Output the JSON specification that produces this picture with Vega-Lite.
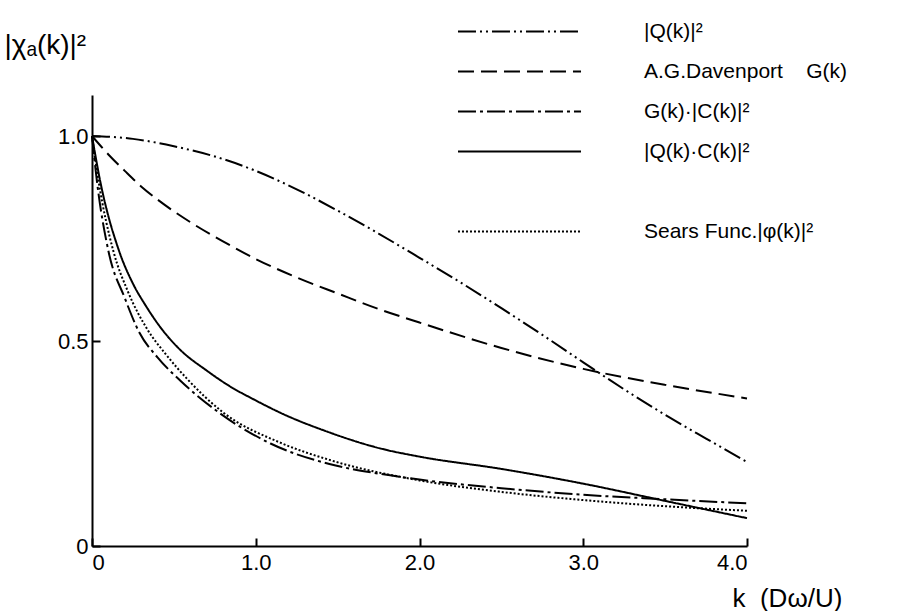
{
  "$schema": "https://vega.github.io/schema/vega-lite/v6.json",
  "width": 655,
  "height": 451,
  "autosize": "none",
  "padding": {"left": 92, "top": 95, "right": 159, "bottom": 65},
  "background": "white",
  "config": {
    "view": {"stroke": null},
    "font": "Liberation Sans",
    "axis": {"grid": false, "domainColor": "black", "domainWidth": 2, "tickColor": "black", "tickWidth": 2, "labelColor": "black", "titleColor": "black", "labelFont": "Liberation Sans", "titleFont": "Liberation Sans", "labelFontSize": 22, "titleFontWeight": "normal"},
    "legend": {"labelFont": "Liberation Sans", "labelFontSize": 21, "labelColor": "black", "labelLimit": 400}
  },
  "data": {
    "values": [
      {"series": "Q", "k": 0, "v": 1.0},
      {"series": "Q", "k": 0.25, "v": 0.993},
      {"series": "Q", "k": 0.5, "v": 0.975},
      {"series": "Q", "k": 0.75, "v": 0.95},
      {"series": "Q", "k": 1.0, "v": 0.915},
      {"series": "Q", "k": 1.25, "v": 0.87},
      {"series": "Q", "k": 1.5, "v": 0.818},
      {"series": "Q", "k": 1.75, "v": 0.762},
      {"series": "Q", "k": 2.0, "v": 0.703},
      {"series": "Q", "k": 2.25, "v": 0.643},
      {"series": "Q", "k": 2.5, "v": 0.58},
      {"series": "Q", "k": 2.75, "v": 0.515},
      {"series": "Q", "k": 3.0, "v": 0.448},
      {"series": "Q", "k": 3.25, "v": 0.382},
      {"series": "Q", "k": 3.5, "v": 0.32},
      {"series": "Q", "k": 3.75, "v": 0.262},
      {"series": "Q", "k": 4.0, "v": 0.205},
      {"series": "G", "k": 0, "v": 1.0},
      {"series": "G", "k": 0.1, "v": 0.955},
      {"series": "G", "k": 0.2, "v": 0.915},
      {"series": "G", "k": 0.3, "v": 0.877},
      {"series": "G", "k": 0.4, "v": 0.845},
      {"series": "G", "k": 0.6, "v": 0.79},
      {"series": "G", "k": 0.8, "v": 0.743},
      {"series": "G", "k": 1.0, "v": 0.70},
      {"series": "G", "k": 1.25, "v": 0.655},
      {"series": "G", "k": 1.5, "v": 0.616},
      {"series": "G", "k": 1.75, "v": 0.578},
      {"series": "G", "k": 2.0, "v": 0.545},
      {"series": "G", "k": 2.5, "v": 0.483},
      {"series": "G", "k": 3.0, "v": 0.432},
      {"series": "G", "k": 3.5, "v": 0.393},
      {"series": "G", "k": 4.0, "v": 0.36},
      {"series": "GC", "k": 0, "v": 1.0},
      {"series": "GC", "k": 0.03, "v": 0.89},
      {"series": "GC", "k": 0.1, "v": 0.72},
      {"series": "GC", "k": 0.2, "v": 0.605},
      {"series": "GC", "k": 0.29, "v": 0.52},
      {"series": "GC", "k": 0.4, "v": 0.46},
      {"series": "GC", "k": 0.54, "v": 0.403},
      {"series": "GC", "k": 0.78, "v": 0.324},
      {"series": "GC", "k": 1.09, "v": 0.25},
      {"series": "GC", "k": 1.45, "v": 0.2},
      {"series": "GC", "k": 1.76, "v": 0.176},
      {"series": "GC", "k": 2.0, "v": 0.162},
      {"series": "GC", "k": 2.5, "v": 0.141},
      {"series": "GC", "k": 3.0, "v": 0.125},
      {"series": "GC", "k": 3.5, "v": 0.114},
      {"series": "GC", "k": 4.0, "v": 0.104},
      {"series": "QC", "k": 0, "v": 1.0},
      {"series": "QC", "k": 0.05, "v": 0.89},
      {"series": "QC", "k": 0.165, "v": 0.72},
      {"series": "QC", "k": 0.25, "v": 0.64},
      {"series": "QC", "k": 0.33, "v": 0.585},
      {"series": "QC", "k": 0.43, "v": 0.527},
      {"series": "QC", "k": 0.54, "v": 0.478},
      {"series": "QC", "k": 0.7, "v": 0.428},
      {"series": "QC", "k": 0.84, "v": 0.39},
      {"series": "QC", "k": 1.0, "v": 0.355},
      {"series": "QC", "k": 1.15, "v": 0.325},
      {"series": "QC", "k": 1.45, "v": 0.277},
      {"series": "QC", "k": 1.76, "v": 0.238},
      {"series": "QC", "k": 2.0, "v": 0.218},
      {"series": "QC", "k": 2.5, "v": 0.188},
      {"series": "QC", "k": 3.0, "v": 0.152},
      {"series": "QC", "k": 3.5, "v": 0.11},
      {"series": "QC", "k": 4.0, "v": 0.068},
      {"series": "S", "k": 0, "v": 1.0},
      {"series": "S", "k": 0.04, "v": 0.89},
      {"series": "S", "k": 0.13, "v": 0.72},
      {"series": "S", "k": 0.22, "v": 0.62},
      {"series": "S", "k": 0.34, "v": 0.527},
      {"series": "S", "k": 0.45, "v": 0.468},
      {"series": "S", "k": 0.58, "v": 0.408},
      {"series": "S", "k": 0.8, "v": 0.326},
      {"series": "S", "k": 1.15, "v": 0.252},
      {"series": "S", "k": 1.45, "v": 0.21},
      {"series": "S", "k": 2.0, "v": 0.16},
      {"series": "S", "k": 2.5, "v": 0.132},
      {"series": "S", "k": 3.0, "v": 0.112},
      {"series": "S", "k": 3.5, "v": 0.097},
      {"series": "S", "k": 4.0, "v": 0.086}
    ]
  },
  "mark": {"type": "line", "interpolate": "monotone", "color": "black", "strokeWidth": 2},
  "encoding": {
    "x": {
      "field": "k", "type": "quantitative",
      "scale": {"domain": [0, 4], "nice": false, "zero": false},
      "axis": {"values": [0, 1, 2, 3, 4], "tickSize": -8, "labelPadding": 14, "labelExpr": "datum.value == 0 ? '0' : format(datum.value, '.1f')",
        "title": "k\u00a0\u00a0(Dω/U)", "titleFontSize": 26, "titleAlign": "left", "titleAnchor": "start", "titleX": 640, "titleY": 52, "titleBaseline": "middle"}
    },
    "y": {
      "field": "v", "type": "quantitative",
      "scale": {"domain": [0, 1.1], "nice": false},
      "axis": {"values": [0, 0.5, 1.0], "tickSize": -8, "labelPadding": 12, "labelExpr": "datum.value == 0 ? '0' : format(datum.value, '.1f')",
        "title": "|χₐ(k)|²", "titleFontSize": 28, "titleAngle": 0, "titleAlign": "left", "titleX": -88, "titleY": -50, "titleBaseline": "middle"}
    },
    "strokeDash": {
      "field": "series", "type": "nominal",
      "scale": {"domain": ["Q", "G", "GC", "QC", "gap", "S"], "range": [[18, 4, 2, 4, 2, 4], [16, 7], [18, 4, 3, 4], [1, 0], [0, 1000], [2, 2]]},
      "legend": {
        "orient": "none", "legendX": 411, "legendY": -80, "title": null,
        "symbolType": "M-4,0H4", "symbolSize": 946, "symbolStrokeWidth": 2, "symbolStrokeColor": "black",
        "labelOffset": 108, "rowPadding": 13,
        "labelExpr": "datum.value == 'Q' ? '|Q(k)|²' : datum.value == 'G' ? 'A.G.Davenport\u00a0\u00a0\u00a0\u00a0G(k)' : datum.value == 'GC' ? 'G(k)·|C(k)|²' : datum.value == 'QC' ? '|Q(k)·C(k)|²' : datum.value == 'S' ? 'Sears Func.|φ(k)|²' : ''"
      }
    }
  }
}
